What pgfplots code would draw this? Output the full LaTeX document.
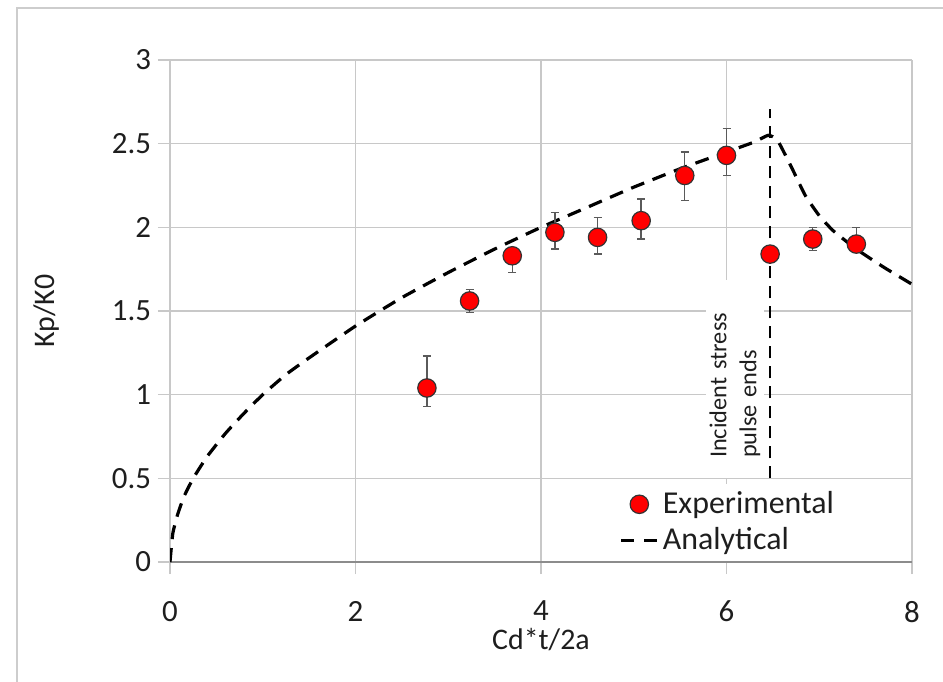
\documentclass[border=0pt]{standalone}
\usepackage{fontspec}
\setmainfont{Carlito}
\usepackage{pgfplots}
\pgfplotsset{compat=1.18}
\definecolor{gridgray}{RGB}{200,200,200}
\definecolor{axisgray}{RGB}{140,140,140}
\definecolor{framegray}{RGB}{205,205,205}
\definecolor{textgray}{RGB}{30,30,30}
\definecolor{errgray}{RGB}{90,90,90}

\begin{document}
\begin{tikzpicture}
\path[use as bounding box] (0bp,0bp) rectangle (471.5bp,-341bp);
\draw[framegray, line width=1.2bp] (8.5bp,-350bp) -- (8.5bp,-4bp) -- (480bp,-4bp);
\begin{axis}[
  at={(85bp,-281bp)}, anchor=south west,
  width=371bp, height=251bp, scale only axis,
  xmin=0, xmax=8, ymin=0, ymax=3,
  xtick={0,2,4,6,8}, ytick={0,0.5,1,1.5,2,2.5,3},
  axis x line*=bottom, axis y line*=left,
  x axis line style={axisgray, line width=1.3bp},
  y axis line style={gridgray, line width=0.8bp},
  grid=major, major grid style={gridgray, line width=0.8bp},
  tick align=outside, major tick length=6bp,
  tick style={gridgray, line width=0.8bp},
  /pgf/number format/assume math mode=true,
  ticklabel style={font=\fontsize{15.5}{18}\selectfont, text=textgray},
  xticklabel style={yshift=-10bp},
  xlabel={Cd*t/2a}, ylabel={Kp/K0},
  label style={font=\fontsize{15}{18}\selectfont, text=textgray},
  xlabel style={at={(axis description cs:0.5,-0.155)}, anchor=center},
  ylabel style={at={(axis description cs:-0.166,0.5)}, anchor=center},
  reverse legend,
  legend style={at={(axis cs:4.78,0.47)}, anchor=north west, draw=none, fill=white,
    font=\fontsize{16}{19}\selectfont, text=textgray, row sep=1.5bp},
  legend cell align=left,
]
% pulse end marker
\addplot[black, line width=1.3bp, dash pattern=on 6bp off 4bp, forget plot]
  coordinates {(6.47,0.5) (6.47,2.71)};

\addplot[black, line width=1.6bp, dash pattern=on 7bp off 4.5bp, smooth, tension=0.3,
  legend image code/.code={
    \draw[black, line width=1.6bp, dash pattern=on 6.5bp off 5bp]
      (0bp,0bp) -- (18bp,0bp);}]
  coordinates {
    (0,0) (0.03,0.17) (0.08,0.28) (0.15,0.39) (0.25,0.5) (0.4,0.63)
    (0.6,0.77) (0.8,0.89) (1,1) (1.25,1.12) (1.5,1.22) (2,1.41)
    (2.5,1.58) (3,1.73) (3.5,1.87) (4,2) (4.5,2.12) (5,2.24)
    (5.5,2.35) (6,2.45) (6.3,2.51) (6.45,2.55) (6.55,2.52) (6.7,2.36)
    (6.85,2.19) (7,2.07) (7.15,1.98) (7.4,1.87) (7.7,1.76) (8,1.66)
  };
\addlegendentry{Analytical}

\addplot[only marks, mark=*, mark size=4.6bp,
  mark options={fill=red, draw=black!80, line width=0.6bp},
  legend image code/.code={
    \draw[fill=red, draw=black!80, line width=0.6bp] (9bp,0bp) circle (4.6bp);},
  error bars/.cd, y dir=both, y explicit,
  error bar style={errgray, line width=0.7bp},
  error mark options={rotate=90, mark size=2bp, errgray, line width=0.7bp}]
  coordinates {
    (2.77,1.04) += (0,0.19) -= (0,0.11)
    (3.23,1.56) += (0,0.07) -= (0,0.07)
    (3.69,1.83) += (0,0.05) -= (0,0.10)
    (4.15,1.97) += (0,0.12) -= (0,0.10)
    (4.61,1.94) += (0,0.12) -= (0,0.10)
    (5.08,2.04) += (0,0.13) -= (0,0.11)
    (5.55,2.31) += (0,0.14) -= (0,0.15)
    (6.00,2.43) += (0,0.16) -= (0,0.12)
    (6.47,1.84) += (0,0.03) -= (0,0.03)
    (6.93,1.93) += (0,0.07) -= (0,0.07)
    (7.40,1.90) += (0,0.10) -= (0,0.02)
  };
\addlegendentry{Experimental}

\node[rotate=90, anchor=north west, fill=white, text=textgray,
  font=\fontsize{12.2}{15}\selectfont, align=left, text width=79bp,
  inner xsep=10bp, inner ysep=2bp]
  at (axis cs:5.77,0.5) {Incident stress\\pulse ends};
\end{axis}
\end{tikzpicture}
\end{document}
